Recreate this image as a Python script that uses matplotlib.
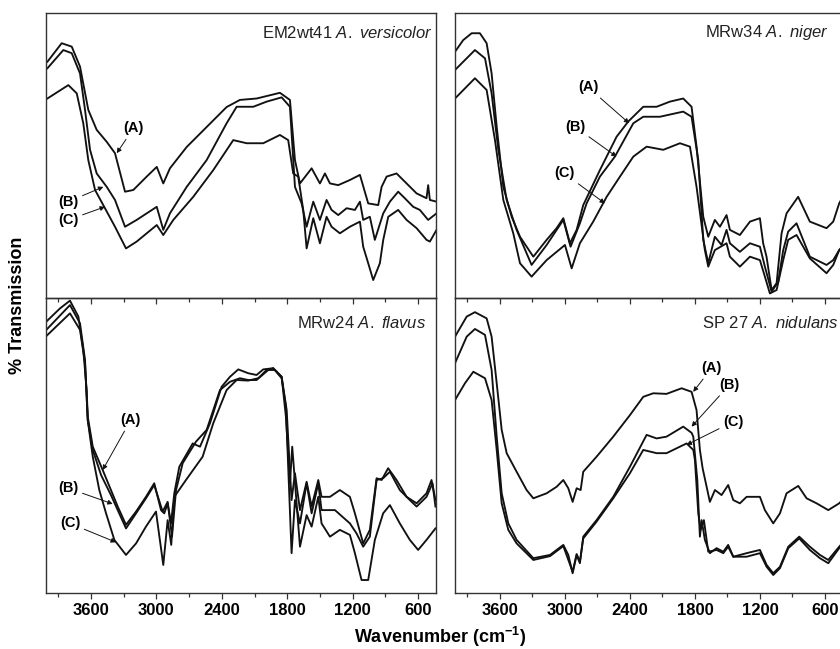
import numpy as np
import matplotlib
matplotlib.use("Agg")
import matplotlib.pyplot as plt
from matplotlib.ticker import MultipleLocator

plt.rcParams['font.family'] = ['Liberation Sans', 'DejaVu Sans']
plt.rcParams['mathtext.fontset'] = 'custom'
plt.rcParams['mathtext.rm'] = 'Liberation Sans'
plt.rcParams['mathtext.it'] = 'Liberation Sans:italic'
plt.rcParams['mathtext.bf'] = 'Liberation Sans:bold'

# ---- EM2wt41 A. versicolor (top left) ----
em_a_x = [4000, 3869, 3777, 3701, 3625, 3548, 3456, 3380, 3288, 3212, 3089, 2997, 2937, 2876, 2722, 2539, 2356,
          2234, 2080, 1867, 1775, 1729, 1683, 1576, 1500, 1454, 1408, 1332, 1225, 1133, 1057, 965, 934, 888, 797,
          705, 613, 522, 507, 491, 430]
em_a_y = [82.9, 89.4, 88.2, 81.2, 66, 59, 54.8, 50.8, 37.3, 37.9, 42.6, 46, 40.2, 45.5, 53, 60, 67,
          69.5, 70, 72, 69.5, 48.4, 40.2, 45.5, 40.2, 43.7, 40.2, 39.6, 41.4, 43.2, 33.2, 32.6, 39, 42.6, 43.7,
          40.2, 36.7, 35, 39.6, 34.4, 33.8]
em_b_x = [4000, 3854, 3777, 3701, 3655, 3609, 3548, 3456, 3380, 3288, 3181, 2997, 2937, 2876, 2722, 2539, 2356,
          2264, 2111, 1989, 1851, 1775, 1729, 1668, 1622, 1561, 1500, 1439, 1393, 1332, 1255, 1179, 1133, 1103,
          1042, 996, 919, 858, 782, 721, 644, 583, 507, 430]
em_b_y = [80.6, 87, 85.9, 78.8, 66, 52, 43.7, 39, 34.4, 25, 27.4, 32, 23.9, 29.7, 39, 48.4, 61.3,
          67.1, 67.1, 68.9, 70.4, 67.1, 39, 33.2, 25, 33.8, 27.4, 34.4, 30.9, 29.1, 31.5, 30.9, 33.8, 27.4,
          28.5, 20.4, 29.7, 33.8, 37.3, 35, 32, 30.9, 27.4, 29.7]
em_c_x = [4000, 3808, 3731, 3671, 3625, 3563, 3472, 3380, 3279, 3181, 2997, 2937, 2845, 2662, 2478, 2295, 2172,
          2020, 1867, 1791, 1745, 1699, 1653, 1622, 1561, 1500, 1439, 1393, 1317, 1225, 1133, 1103, 1057, 1011,
          950, 919, 873, 782, 705, 613, 522, 491, 430]
em_c_y = [70, 74.7, 71.8, 61.3, 48.4, 37.9, 31.5, 25, 17.4, 19.8, 25.6, 22.1, 27.4, 35.5, 44.9, 55.4, 54.3,
          54.3, 57.2, 55.4, 43.7, 42.6, 30.9, 17.4, 28, 19.2, 28.5, 25, 22.7, 25, 26.8, 18, 12.2, 6.3,
          12.2, 20.4, 28.5, 30.9, 27.4, 24.5, 20.4, 19.8, 23.9]

# ---- MRw34 A. niger (top right) ----
ni_a_x = [4015, 3939, 3861, 3785, 3723, 3677, 3630, 3569, 3492, 3415, 3292, 3169, 3077, 3015, 2954, 2892, 2831,
          2677, 2523, 2416, 2277, 2154, 2031, 1908, 1831, 1785, 1723, 1677, 1616, 1569, 1508, 1477, 1385, 1292,
          1200, 1170, 1139, 1092, 1046, 1000, 954, 847, 739, 585, 523, 468, 400]
ni_a_y = [86.4, 90.5, 92.9, 92.9, 89.4, 78.8, 60.1, 39, 28.5, 21.5, 14.5, 20.4, 24.5, 28, 19.2, 23.9, 32.6,
          44.9, 56.6, 61.9, 67.1, 67.1, 68.9, 70, 67.1, 53.1, 28.5, 21.5, 27.4, 25, 29.1, 23.9, 22.1, 26.8,
          28, 19.2, 14.5, 2.8, 5.2, 22.7, 29.7, 35.5, 26.8, 24.5, 26.8, 33.2, 38]
ni_b_x = [4015, 3831, 3738, 3677, 3615, 3538, 3446, 3308, 3169, 3015, 2948, 2862, 2800, 2677, 2539, 2369, 2277,
          2123, 1908, 1831, 1769, 1723, 1677, 1616, 1554, 1508, 1477, 1385, 1292, 1200, 1154, 1092, 1031, 985,
          939, 862, 739, 585, 523, 468, 400]
ni_b_y = [80, 87, 84.1, 71.8, 52, 34.4, 23.9, 11.6, 18.6, 27.4, 18, 26.2, 33.2, 42.6, 49.6, 61.3, 63.6,
          63.6, 65.4, 63.6, 48.4, 20.4, 12.2, 21.5, 18.6, 23.9, 19.2, 16.2, 19.2, 18, 11, 2.2, 5.7, 16.8,
          23.3, 26.2, 14.5, 11.6, 13.3, 16.8, 20]
ni_c_x = [4015, 3831, 3723, 3646, 3569, 3477, 3415, 3308, 3169, 3000, 2938, 2862, 2739, 2615, 2492, 2369, 2246,
          2092, 1938, 1846, 1785, 1708, 1677, 1616, 1508, 1477, 1385, 1292, 1200, 1154, 1108, 1046, 985, 939,
          862, 739, 585, 523, 468, 400]
ni_c_y = [70, 77.1, 73, 55.4, 34.4, 22.7, 12.2, 7.5, 13.3, 18.6, 10.4, 19.2, 26.8, 35.5, 42.6, 49.6, 53.1,
          52, 54.3, 53.1, 39, 16.8, 11, 16.8, 19.2, 14.5, 11, 14.5, 13.3, 7.5, 1.6, 2.8, 13.3, 20.4,
          22.1, 13.9, 8.7, 11.6, 16.8, 19]

# ---- MRw24 A. flavus (bottom left) ----
fl_a_x = [4010, 3884, 3793, 3716, 3671, 3640, 3630, 3584, 3493, 3417, 3355, 3279, 3187, 3096, 3020, 2958, 2928,
          2897, 2866, 2836, 2790, 2667, 2600, 2509, 2402, 2325, 2249, 2158, 2081, 2020, 1928, 1851, 1805, 1782,
          1760, 1729, 1683, 1622, 1576, 1515, 1485, 1408, 1317, 1225, 1179, 1103, 1042, 980, 934, 874, 797,
          705, 613, 522, 476, 440]
fl_a_y = [92, 96.5, 99.1, 93.7, 82.4, 68.8, 59.8, 49.6, 41.7, 34.9, 29.3, 23.1, 27.6, 32.6, 37.2, 28.1, 27,
          30.4, 23.6, 33.8, 42.8, 50.7, 49.6, 57.5, 69.9, 73.3, 75.8, 74.5, 73.9, 75.8, 76.2, 73.3, 62, 46.2,
          31.5, 40.6, 28.1, 37.7, 29.3, 38.3, 32.6, 32.6, 34.9, 32.6, 27, 16.8, 21.4, 38.9, 38.3, 42.3, 38.3,
          32.6, 30.4, 33.8, 38.3, 31.5]
fl_b_x = [4010, 3793, 3701, 3655, 3630, 3584, 3508, 3417, 3355, 3279, 3187, 3096, 3020, 2943, 2897, 2857, 2820,
          2759, 2637, 2539, 2417, 2325, 2234, 2158, 2081, 1974, 1928, 1851, 1812, 1791, 1760, 1729, 1683, 1622,
          1576, 1515, 1485, 1362, 1225, 1164, 1103, 1042, 980, 920, 858, 767, 675, 613, 522, 467, 440]
fl_b_y = [89.2, 97.6, 91.4, 79, 58.6, 48.5, 40, 33.2, 28.1, 21.9, 27, 32.1, 36.6, 27.6, 30.9, 19.1, 34.9,
          44, 51.3, 55.3, 68.8, 71.6, 72.8, 72.2, 72.2, 75.6, 76.2, 72.8, 63.2, 42.8, 13.5, 31.5, 23.6, 37.2,
          27, 37.2, 28.1, 28.1, 23.6, 20.2, 15.7, 19.1, 38.3, 38.9, 41.1, 34.9, 31.5, 29.3, 32.6, 37.2, 29.3]
fl_c_x = [4010, 3793, 3701, 3655, 3630, 3584, 3524, 3462, 3386, 3279, 3187, 3096, 3004, 2937, 2897, 2864, 2836,
          2729, 2576, 2479, 2356, 2264, 2158, 2066, 1989, 1913, 1851, 1812, 1775, 1754, 1714, 1683, 1622, 1576,
          1515, 1485, 1408, 1317, 1225, 1179, 1118, 1057, 996, 920, 858, 767, 675, 599, 522, 440]
fl_c_y = [87.1, 94.8, 89.2, 77.9, 58.6, 46.2, 34.9, 27, 18, 12.9, 16.8, 22.5, 27.6, 9.5, 24.7, 16.3, 32.6,
          38.3, 46.2, 57.5, 68.8, 72.2, 72, 72.8, 75.6, 75.6, 73.3, 59.8, 37.2, 49.6, 30.4, 15.7, 26.4, 22.5,
          32.6, 23.6, 19.1, 21.4, 19.7, 13.5, 4.4, 4.4, 18, 27, 29.8, 23.6, 18, 14.6, 18, 21.9]

# ---- SP 27 A. nidulans (bottom right) ----
nd_a_x = [4015, 3907, 3831, 3723, 3677, 3630, 3584, 3538, 3446, 3354, 3292, 3169, 3077, 3015, 2969, 2929, 2892,
          2855, 2831, 2708, 2554, 2400, 2277, 2185, 2062, 1923, 1831, 1785, 1754, 1729, 1662, 1615, 1554, 1493,
          1446, 1385, 1323, 1200, 1154, 1077, 1015, 954, 846, 769, 677, 569, 468, 400]
nd_a_y = [86.9, 93.7, 95.2, 93.1, 86.9, 71.1, 55.3, 47.4, 41.1, 34.9, 32.1, 33.8, 36, 38.3, 35.5, 30.9, 35.5,
          34.9, 41.1, 46.2, 53, 60.3, 66.5, 67.7, 67.5, 69.4, 68.2, 62, 48.5, 42.3, 30.9, 34.9, 33.2, 36.6,
          31.5, 30.4, 32.6, 32.6, 28.1, 23.6, 27, 33.8, 36.3, 32.1, 30.4, 28.1, 30.4, 33]
nd_b_x = [4015, 3907, 3831, 3738, 3677, 3630, 3584, 3523, 3446, 3292, 3138, 3015, 2969, 2929, 2892, 2862, 2831,
          2708, 2554, 2400, 2246, 2154, 2062, 1908, 1831, 1815, 1778, 1754, 1738, 1708, 1662, 1600, 1538, 1493,
          1446, 1323, 1200, 1138, 1077, 1015, 938, 837, 739, 646, 569, 468, 400]
nd_b_y = [77.9, 86.9, 89.5, 87.5, 75.6, 53, 33.8, 23.6, 18, 11.8, 12.9, 16.3, 12.9, 6.7, 12.9, 10.1, 19.1,
          24.7, 32.6, 42.8, 53.6, 52.4, 53, 56.4, 54.3, 53, 38.3, 19.1, 24.7, 18, 13.5, 15.2, 14, 16.3,
          12.3, 13.5, 14.6, 9.5, 6.7, 8.9, 15.7, 19.1, 15.7, 12.9, 11.2, 15.7, 18.5]
nd_c_x = [4015, 3923, 3846, 3738, 3677, 3630, 3584, 3523, 3446, 3292, 3138, 3015, 2929, 2892, 2862, 2831, 2708,
          2554, 2400, 2277, 2154, 2062, 1877, 1815, 1800, 1769, 1747, 1717, 1677, 1600, 1538, 1493, 1446, 1323,
          1200, 1138, 1077, 1015, 938, 837, 739, 646, 569, 468, 400]
nd_c_y = [65.4, 71.1, 75, 72.8, 65.4, 48.5, 30.4, 21.4, 16.8, 11.2, 12.5, 15.9, 7.2, 13.2, 10.6, 18.5, 24.2,
          32.1, 40.6, 48.5, 47.4, 47.4, 50.7, 48.5, 45.1, 27, 21.4, 24.7, 14, 14.6, 13.5, 15.7, 12.3, 12.3,
          13.5, 8.9, 6.1, 8.4, 15.2, 18.5, 14.6, 11.8, 10.1, 15.2, 18]

titles = ["EM2wt41 $\\it{A.\\ versicolor}$", "MRw34 $\\it{A.\\ niger}$",
          "MRw24 $\\it{A.\\ flavus}$", "SP 27 $\\it{A.\\ nidulans}$"]
labels = ["(A)", "(B)", "(C)"]
xticks = [3600, 3000, 2400, 1800, 1200, 600]

# label text position / arrow tip for each panel
ann_text = [[(3212, 59.5), (3808, 33.8), (3808, 27.4)],
            [(2785, 73.9), (2908, 60.1), (3006, 43.7)],
            [(3236, 58.6), (3808, 35.5), (3793, 23.6)],
            [(1646, 76.2), (1483, 70.5), (1446, 58.1)]]
ann_tip = [[(3364, 50.8), (3487, 39), (3472, 32)],
           [(2407, 61.3), (2523, 49.6), (2631, 33.2)],
           [(3493, 41.7), (3401, 30.2), (3371, 17.2)],
           [(1816, 68.2), (1831, 56.4), (1877, 50.2)]]

curves = [[(em_a_x, em_a_y), (em_b_x, em_b_y), (em_c_x, em_c_y)],
          [(ni_a_x, ni_a_y), (ni_b_x, ni_b_y), (ni_c_x, ni_c_y)],
          [(fl_a_x, fl_a_y), (fl_b_x, fl_b_y), (fl_c_x, fl_c_y)],
          [(nd_a_x, nd_a_y), (nd_b_x, nd_b_y), (nd_c_x, nd_c_y)]]

W, H = 840, 649
fig = plt.figure(figsize=(8.4, 6.49), dpi=100)

# axes boxes in pixels: left, top, right, bottom
boxes = [(46, 13, 436, 298), (455, 13, 847, 298),
         (46, 298, 436, 593), (455, 298, 847, 593)]
xlims = [(4013, 435), (4015, 396), (4013, 435), (4015, 396)]
title_pos = [(0.992, 0.93), (0.952, 0.93), (0.975, 0.915), (0.978, 0.915)]

for i in range(4):
    l, t, r, b = boxes[i]
    ax = fig.add_axes([l / W, 1 - b / H, (r - l) / W, (b - t) / H])
    for x, y in curves[i]:
        ax.plot(x, y, color='#111111', lw=1.35)
    ax.set_xlim(*xlims[i])
    ax.set_ylim(0, 100)
    ax.set_yticks([])
    ax.xaxis.set_minor_locator(MultipleLocator(300))
    ax.set_xticks(xticks)
    for s in ax.spines.values():
        s.set_color('#333333')
        s.set_linewidth(1.0)
    ax.tick_params(axis='x', which='both', direction='out', width=0.9, color='#333333')
    ax.tick_params(axis='x', which='major', length=4)
    ax.tick_params(axis='x', which='minor', length=3)
    if i < 2:
        # ticks hang down into the lower panel
        ax.tick_params(axis='x', which='both', labelbottom=False)
    else:
        ax.patch.set_facecolor('none')
        ax.tick_params(axis='x', which='major', labelsize=12)
        for lab in ax.get_xticklabels():
            lab.set_fontweight('bold')
    ax.text(title_pos[i][0], title_pos[i][1], titles[i], transform=ax.transAxes,
            ha='right', va='center', fontsize=12, color='#222222')
    for k in range(3):
        ax.annotate(labels[k], xy=ann_tip[i][k], xytext=ann_text[i][k],
                    ha='center', va='center', fontsize=10.5, fontweight='bold',
                    arrowprops=dict(arrowstyle='-|>', color='#111111', lw=0.7,
                                    mutation_scale=7, shrinkA=1, shrinkB=0))

fig.text(18 / W, 1 - 305 / H, "% Transmission", rotation=90, ha='center', va='center',
         fontsize=13, fontweight='bold')
fig.text(440 / W, 1 - 637 / H, "Wavenumber (cm$^{\\mathbf{-1}}$)", ha='center', va='center',
         fontsize=13, fontweight='bold')

fig.savefig("out.png", dpi=100)
